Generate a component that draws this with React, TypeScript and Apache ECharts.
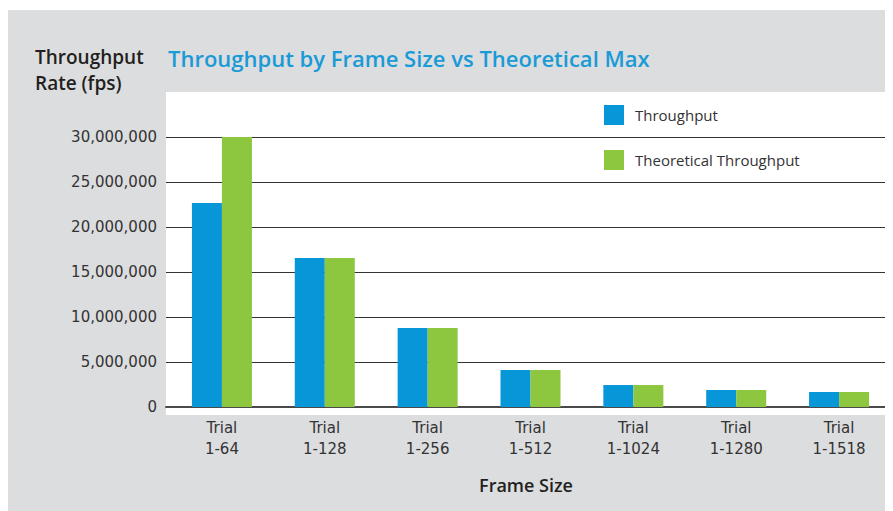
import React, { useEffect, useRef } from "react";
import * as echarts from "echarts";

const categories = [
  "Trial\n1-64",
  "Trial\n1-128",
  "Trial\n1-256",
  "Trial\n1-512",
  "Trial\n1-1024",
  "Trial\n1-1280",
  "Trial\n1-1518",
];
const throughput = [22670000, 16560000, 8780000, 4110000, 2440000, 1890000, 1670000];
const theoretical = [30000000, 16560000, 8780000, 4110000, 2440000, 1890000, 1670000];
const yMin = 0;
const yMax = 30000000;
const yInterval = 5000000;

const BLUE = "#0796d8";
const GREEN = "#8dc63f";
const GRAY = "#dcdddf";
const TEXT = "#231f20";
const TICK = "#333333";

export default function App() {
  const ref = useRef<HTMLDivElement>(null);
  useEffect(() => {
    if (!ref.current) return;
    const chart = echarts.init(ref.current, undefined, { renderer: "svg" });
    const option: any = {
      animation: false,
      backgroundColor: "#ffffff",
      graphic: [
        { type: "rect", z: -100, silent: true, shape: { x: 0, y: 2, width: 885, height: 501 }, style: { fill: GRAY } },
        { type: "rect", z: -90, silent: true, shape: { x: 158, y: 84, width: 721, height: 323 }, style: { fill: "#ffffff" } },
        {
          type: "text",
          left: 160,
          top: 39,
          style: {
            text: "Throughput by Frame Size vs Theoretical Max",
            fill: "#1a9ad6",
            font: "600 22px 'Open Sans'",
          },
        },
        {
          type: "text",
          left: 27,
          top: 36,
          style: {
            text: "Throughput\nRate (fps)",
            fill: TEXT,
            font: "600 19px 'Open Sans'",
            lineHeight: 26,
          },
        },
        {
          type: "text",
          x: 518,
          y: 477,
          style: {
            text: "Frame Size",
            fill: TEXT,
            font: "600 18px 'Open Sans'",
            align: "center",
            verticalAlign: "middle",
          },
        },
      ],
      legend: {
        orient: "vertical",
        left: 596,
        top: 97,
        padding: 0,
        itemWidth: 20,
        itemHeight: 20,
        itemGap: 25,
        icon: "rect",
        data: ["Throughput", "Theoretical Throughput"],
        textStyle: {
          color: TICK,
          fontFamily: "Open Sans",
          fontSize: 15,
          padding: [0, 0, 0, 6],
        },
      },
      grid: [
        { left: 158, right: 6, top: 129, bottom: 104 },
        { left: 162.5, right: 2.5, top: 129, bottom: 104 },
      ],
      xAxis: [
        {
          gridIndex: 0,
          type: "value",
          min: 0,
          max: 1,
          axisLine: { show: true, lineStyle: { color: "#4a4a4a", width: 2 } },
          axisTick: { show: false },
          axisLabel: { show: false },
          splitLine: { show: false },
        },
        {
          gridIndex: 1,
          type: "category",
          data: categories,
          axisLine: { show: false },
          axisTick: { show: false },
          splitLine: { show: false },
          axisLabel: {
            margin: 10,
            color: TICK,
            fontFamily: "DejaVu Sans",
            fontSize: 15,
            lineHeight: 21,
          },
        },
      ],
      yAxis: [
        {
          gridIndex: 0,
          type: "value",
          min: yMin,
          max: yMax,
          interval: yInterval,
          axisLine: { show: false },
          axisTick: { show: false },
          splitLine: { show: true, lineStyle: { color: "#333333", width: 1.2 } },
          axisLabel: {
            margin: 9,
            color: TICK,
            fontFamily: "DejaVu Sans",
            fontSize: 15,
            formatter: (v: number) => v.toLocaleString("en-US"),
          },
        },
        {
          gridIndex: 1,
          type: "value",
          min: yMin,
          max: yMax,
          interval: yInterval,
          show: false,
          splitLine: { show: false },
        },
      ],
      series: [
        {
          name: "Throughput",
          type: "bar",
          xAxisIndex: 1,
          yAxisIndex: 1,
          data: throughput,
          barWidth: 30,
          barGap: "0%",
          itemStyle: { color: BLUE },
        },
        {
          name: "Theoretical Throughput",
          type: "bar",
          xAxisIndex: 1,
          yAxisIndex: 1,
          data: theoretical,
          barWidth: 30,
          barGap: "0%",
          itemStyle: { color: GREEN },
        },
      ],
    };
    chart.setOption(option);
    return () => chart.dispose();
  }, []);
  return <div ref={ref} style={{ width: 885, height: 503 }} />;
}
